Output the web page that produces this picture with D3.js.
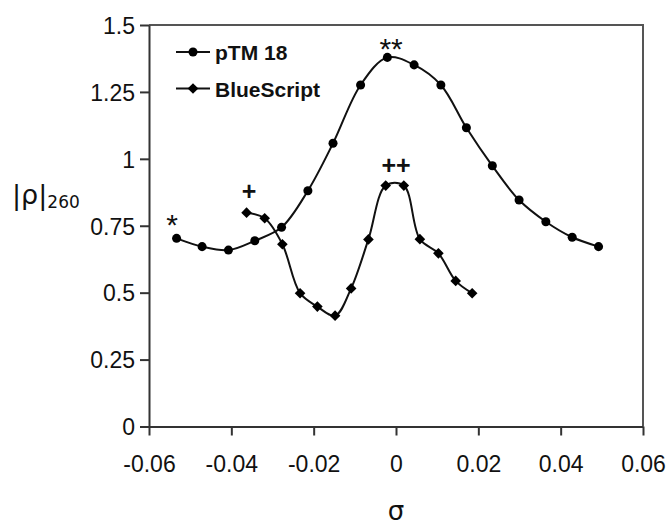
<!DOCTYPE html>
<html>
<head>
<meta charset="utf-8">
<script src="https://cdn.jsdelivr.net/npm/d3@7"></script>
<style>
  html, body { margin: 0; padding: 0; background: #fff; }
  svg { display: block; font-family: Arial, "Liberation Sans", sans-serif; }
</style>
</head>
<body>
<div id="chart"></div>
<script>
// values
var ptmSigma = [-0.0533, -0.0471, -0.0407, -0.0343, -0.0278, -0.0214, -0.0153, -0.0086, -0.0021,
  0.0044, 0.0109, 0.0171, 0.0234, 0.0299, 0.0364, 0.0428, 0.0492];
var ptmRho = [0.703, 0.672, 0.659, 0.694, 0.744, 0.881, 1.058, 1.276, 1.379,
  1.351, 1.276, 1.116, 0.974, 0.846, 0.765, 0.707, 0.672];
var blueSigma = [-0.0363, -0.0319, -0.0276, -0.0233, -0.0191, -0.0148, -0.0109, -0.0067,
  -0.0025, 0.0019, 0.0058, 0.0103, 0.0145, 0.0185];
var blueRho = [0.799, 0.778, 0.681, 0.498, 0.448, 0.414, 0.516, 0.699,
  0.900, 0.900, 0.700, 0.647, 0.544, 0.498];
var seriesNames = ['pTM 18', 'BlueScript'];
var xTicks = [-0.06, -0.04, -0.02, 0, 0.02, 0.04, 0.06];
var xTickLabels = ['-0.06', '-0.04', '-0.02', '0', '0.02', '0.04', '0.06'];
var yTicks = [0, 0.25, 0.5, 0.75, 1, 1.25, 1.5];
var marks = [
  {text: '*', x: -0.0544, y: 0.779, bold: false},
  {text: '+', x: -0.0357, y: 0.880, bold: true},
  {text: '**', x: -0.0012, y: 1.436, bold: false},
  {text: '++', x: 0, y: 0.977, bold: true}
];

var W = 669, H = 527,
  margin = {top: 25, right: 26, bottom: 100.5, left: 149},
  width = W - margin.left - margin.right,
  height = H - margin.top - margin.bottom,
  axisColor = '#333';

var x = d3.scaleLinear().domain([-0.06, 0.06]).range([0, width]);
var y = d3.scaleLinear().domain([0, 1.5]).range([height, 0]);

var svg = d3.select('#chart').append('svg')
  .attr('width', W)
  .attr('height', H);

var g = svg.append('g')
  .attr('transform', 'translate(' + margin.left + ',' + margin.top + ')');

// frame: top and right
g.append('path')
  .attr('d', 'M0,0H' + width + 'V' + height)
  .attr('fill', 'none')
  .attr('stroke', '#555')
  .attr('stroke-width', 2);

var xAxis = g.append('g')
  .attr('transform', 'translate(0,' + height + ')')
  .call(d3.axisBottom(x).tickValues(xTicks).tickSize(9).tickSizeOuter(0)
    .tickFormat(function (d, i) { return xTickLabels[i]; }));

var yAxis = g.append('g')
  .call(d3.axisLeft(y).tickValues(yTicks).tickSize(9).tickSizeOuter(0)
    .tickFormat(function (d) { return String(d); }));

[xAxis, yAxis].forEach(function (a) {
  a.select('.domain').attr('stroke', axisColor).attr('stroke-width', 2);
  a.selectAll('.tick line').attr('stroke', axisColor).attr('stroke-width', 2);
  a.selectAll('.tick text')
    .attr('fill', '#111')
    .style('font-size', '23px')
    .style('font-family', 'Arial, "Liberation Sans", sans-serif');
});
xAxis.selectAll('.tick text').attr('dy', null).attr('y', 45);
yAxis.selectAll('.tick text').attr('x', -14).attr('dy', '0.36em');

var line = d3.line()
  .x(function (d) { return x(d[0]); })
  .y(function (d) { return y(d[1]); })
  .curve(d3.curveCatmullRom.alpha(0.5));

var ptm = d3.zip(ptmSigma, ptmRho),
  blue = d3.zip(blueSigma, blueRho);

var circleSym = d3.symbol().type(d3.symbolCircle).size(64),
  diamondSym = d3.symbol().type(d3.symbolDiamond2).size(72);

[[ptm, circleSym], [blue, diamondSym]].forEach(function (s) {
  g.append('path')
    .datum(s[0])
    .attr('d', line)
    .attr('fill', 'none')
    .attr('stroke', '#111')
    .attr('stroke-width', 2);
  g.selectAll(null)
    .data(s[0])
    .enter()
    .append('path')
    .attr('transform', function (d) {
      return 'translate(' + x(d[0]) + ',' + y(d[1]) + ')';
    })
    .attr('d', s[1])
    .attr('fill', '#000');
});

// significance marks
g.selectAll('.mark')
  .data(marks)
  .enter()
  .append('text')
  .attr('class', 'mark')
  .attr('text-anchor', 'middle')
  .attr('x', function (d) { return x(d.x); })
  .attr('y', function (d) { return y(d.y) + (d.bold ? 9 : 17); })
  .style('font-size', function (d) { return d.bold ? '25px' : '30px'; })
  .style('font-weight', function (d) { return d.bold ? 'bold' : 'normal'; })
  .attr('fill', '#111')
  .text(function (d) { return d.text; });

// legend
var legend = g.append('g').attr('transform', 'translate(27,27)');
seriesNames.forEach(function (name, i) {
  var row = legend.append('g').attr('transform', 'translate(0,' + (i * 36.5) + ')');
  row.append('line')
    .attr('x1', 0).attr('x2', 34)
    .attr('stroke', '#111').attr('stroke-width', 2);
  row.append('path')
    .attr('transform', 'translate(17,0)')
    .attr('d', i === 0 ? circleSym : diamondSym)
    .attr('fill', '#000');
  row.append('text')
    .attr('x', 39)
    .attr('y', 8)
    .style('font-size', '21px')
    .style('font-weight', 'bold')
    .attr('fill', '#111')
    .text(name);
});

// axis titles
var yTitle = svg.append('text')
  .attr('x', 12)
  .attr('y', 204)
  .attr('fill', '#111')
  .style('font-family', '"DejaVu Sans", sans-serif');
yTitle.append('tspan').style('font-size', '27px').text('|ρ|');
yTitle.append('tspan').attr('dy', 4).style('font-size', '17px').text('260');

svg.append('text')
  .attr('x', margin.left + x(0))
  .attr('y', 520)
  .attr('text-anchor', 'middle')
  .attr('fill', '#111')
  .style('font-size', '26px')
  .style('font-family', '"DejaVu Sans", sans-serif')
  .text('σ');
</script>
</body>
</html>
